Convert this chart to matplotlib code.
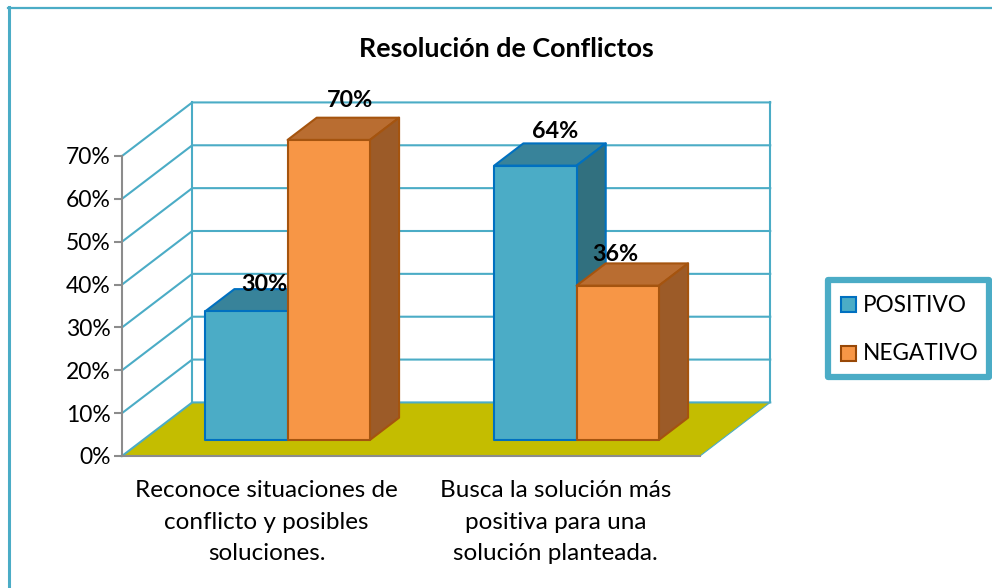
import matplotlib
matplotlib.use("Agg")
import matplotlib.pyplot as plt
from matplotlib.patches import Polygon, Rectangle

plt.rcParams['font.family'] = ['Lato', 'DejaVu Sans']

categories = ["Reconoce situaciones de\nconflicto y posibles\nsoluciones.",
              "Busca la solución más\npositiva para una\nsolución planteada."]
positivo = [30, 64]
negativo = [70, 36]
y_ticks = [0, 10, 20, 30, 40, 50, 60, 70]
tick_labels = ["0%", "10%", "20%", "30%", "40%", "50%", "60%", "70%"]

# where the value labels sit relative to (category, value)
pos_label_off = [(-0.007, 10.1), (0.0, 11.6)]
neg_label_off = [(0.289, 13.0), (0.206, 11.1)]

W, H = 992, 588
TEAL = "#4BACC6"
GRAY = "#8C8C8C"

# oblique shift of the 3d box, for depth d going 0..1
DX = 0.243
DY = 12.5


def obl(x, y, d):
    return (x + d * DX, y + d * DY)


def box(ax, x0, x1, val, face, edge, top, side):
    d0, d1 = 0.30, 0.715
    zorders = 5
    ax.add_patch(Polygon([obl(x0, val, d0), obl(x1, val, d0), obl(x1, val, d1), obl(x0, val, d1)],
                         fc=top, ec=edge, lw=1.5, clip_on=False, zorder=zorders, joinstyle="round"))
    ax.add_patch(Polygon([obl(x1, 0, d0), obl(x1, 0, d1), obl(x1, val, d1), obl(x1, val, d0)],
                         fc=side, ec=edge, lw=1.5, clip_on=False, zorder=zorders, joinstyle="round"))
    ax.add_patch(Polygon([obl(x0, 0, d0), obl(x1, 0, d0), obl(x1, val, d0), obl(x0, val, d0)],
                         fc=face, ec=edge, lw=1.5, clip_on=False, zorder=zorders, joinstyle="round"))


fig = plt.figure(figsize=(W / 100, H / 100), dpi=100)

# chart frame, only the top and left edges are in the crop
bg = fig.add_axes([0, 0, 1, 1])
bg.set_xlim(0, W)
bg.set_ylim(H, 0)
bg.axis("off")
bg.plot([8.5, 8.5], [H, 7], color=TEAL, lw=2.2)
bg.plot([7.5, W], [8, 8], color=TEAL, lw=1.6)

# legend box
bg.add_patch(Rectangle((828, 280), 161, 97, fc="white", ec=TEAL, lw=4.5, zorder=3, joinstyle="round"))
bg.add_patch(Rectangle((841, 297), 15, 15, fc=TEAL, ec="#0070C0", lw=1.5, zorder=4))
bg.add_patch(Rectangle((841, 346), 15, 15, fc="#F79646", ec="#984807", lw=1.5, zorder=4))
bg.text(863, 305, "POSITIVO", fontsize=16.3, va="center", color="black", zorder=4)
bg.text(863, 353, "NEGATIVO", fontsize=16.3, va="center", color="black", zorder=4)
bg.text(506, 49, "Resolución de Conflictos", fontsize=19.4, fontweight="bold", ha="center", va="center")

# plot area: front plane of the 3d box
ax = fig.add_axes([122 / W, 1 - 456 / H, 578 / W, 300 / H])
ax.patch.set_visible(False)
ax.set_xlim(-0.5, 1.5)
ax.set_ylim(0, 70)
for s in ["top", "right"]:
    ax.spines[s].set_visible(False)
for s in ["left", "bottom"]:
    ax.spines[s].set_color(GRAY)
    ax.spines[s].set_linewidth(1.5)
    ax.spines[s].set_zorder(4)
ax.set_yticks(y_ticks)
ax.set_yticklabels(tick_labels, fontsize=16.5)
ax.tick_params(axis="y", length=6, width=1.5, color=GRAY, pad=2)
ax.set_xticks([0, 1])
ax.set_xticklabels([])
ax.tick_params(axis="x", length=0)

# floor
ax.add_patch(Polygon([obl(-0.5, 0, 0), obl(1.5, 0, 0), obl(1.5, 0, 1), obl(-0.5, 0, 1)],
                     fc="#C4BD00", ec="none", clip_on=False, zorder=1))

# walls gridlines
for v in y_ticks:
    x = [obl(-0.5, v, 0)[0], obl(-0.5, v, 1)[0], obl(1.5, v, 1)[0]]
    y = [obl(-0.5, v, 0)[1], obl(-0.5, v, 1)[1], obl(1.5, v, 1)[1]]
    ax.plot(x, y, color=TEAL, lw=1.5, clip_on=False, zorder=2)
for xv in [-0.5, 1.5]:
    ax.plot([obl(xv, 0, 1)[0], obl(xv, 70, 1)[0]], [obl(xv, 0, 1)[1], obl(xv, 70, 1)[1]],
            color=TEAL, lw=1.5, clip_on=False, zorder=2)
ax.plot([obl(1.5, 0, 0)[0], obl(1.5, 0, 1)[0]], [0, DY], color=TEAL, lw=0.8, clip_on=False, zorder=2)

bw = 0.285
for i in range(len(categories)):
    box(ax, i - bw, i, positivo[i], TEAL, "#0070C0", "#38839A", "#31707F")
    box(ax, i, i + bw, negativo[i], "#F79646", "#A5540F", "#B96D31", "#9C5B28")
    ax.text(i + pos_label_off[i][0], positivo[i] + pos_label_off[i][1], f"{positivo[i]}%", fontsize=16.8,
            fontweight="bold", ha="center", va="center", zorder=6, clip_on=False)
    ax.text(i + neg_label_off[i][0], negativo[i] + neg_label_off[i][1], f"{negativo[i]}%", fontsize=16.8,
            fontweight="bold", ha="center", va="center", zorder=6, clip_on=False)
    ax.text(i, -5.6, categories[i], fontsize=17.5, ha="center", va="top", linespacing=1.62, clip_on=False)

fig.savefig("out.png", dpi=100)
